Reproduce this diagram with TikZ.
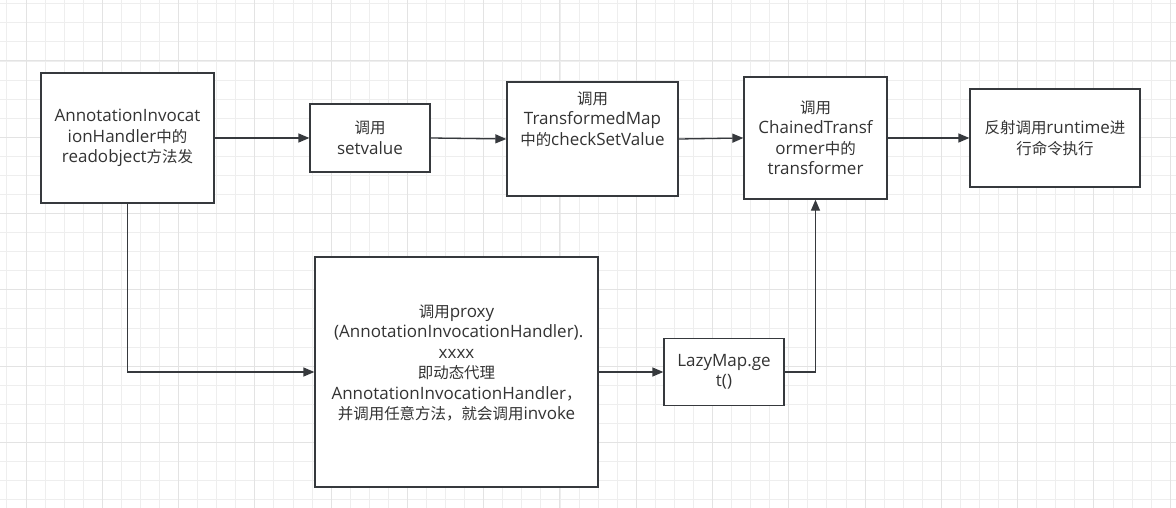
\documentclass[tikz,border=0pt]{standalone}
\usepackage{fontspec}
\setmainfont{Open Sans}
\newfontfamily\cjkfont{Noto Sans CJK SC}[Scale=0.91]
\newcommand\zh[1]{{\cjkfont #1}}
\usetikzlibrary{arrows.meta, positioning, calc}
\definecolor{gridminor}{HTML}{EEEEEE}
\definecolor{gridmajor}{HTML}{E3E3E3}
\definecolor{boxborder}{HTML}{36393D}
\definecolor{boxtext}{HTML}{333333}

\tikzset{
  box/.style={draw=boxborder, line width=1.3pt, fill=white, text=boxtext,
    align=center, inner sep=2pt, font=\fontsize{17}{20.5}\selectfont},
  flow/.style={draw=boxborder, line width=1.3pt, -{Triangle[length=11pt,width=9pt]}}
}

\begin{document}
\begin{tikzpicture}[x=1pt,y=-1pt]
        \useasboundingbox (0,0) rectangle (1176,508);
        \begin{scope}
          \clip (0,0) rectangle (1176,508);
          \foreach \i in {-1,...,60} {
            \draw[gridminor, line width=0.9pt] ({26+\i*19.07},0) -- ++(0,508);
          }
          \foreach \i in {-4,...,24} {
            \draw[gridminor, line width=0.9pt] (0,{61+\i*19.07}) -- ++(1176,0);
          }
          \foreach \i in {0,...,15} {
            \draw[gridmajor, line width=1pt] ({26+\i*76.28},0) -- ++(0,508);
          }
          \foreach \i in {0,...,6} {
            \draw[gridmajor, line width=1pt] (0,{61+\i*76.28}) -- ++(1176,0);
          }
        \end{scope}

        \node[box, minimum width=173pt, minimum height=130pt] (handler) at (127.5,138)
          {AnnotationInvocat\\ionHandler\zh{中的}\\readobject\zh{方法发}};
        \node[box, minimum width=120pt, minimum height=68pt] (setval) at (370,138)
          {\zh{调用}\\setvalue};
        \node[box, minimum width=171pt, minimum height=114pt,
          label={[box, draw=none, fill=none, yshift=20pt]center:{\zh{调用}\\TransformedMap\\\zh{中的}checkSetValue}}]
          (tmap) at (592.5,139) {};
        \node[box, minimum width=143pt, minimum height=122pt] (chain) at (815.5,138)
          {\zh{调用}\\ChainedTransf\\ormer\zh{中的}\\transformer};
        \node[box, minimum width=170pt, minimum height=98pt] (runtime) at (1055,138)
          {\zh{反射调用}runtime\zh{进}\\\zh{行命令执行}};
        \node[box, minimum width=283pt, minimum height=230pt,
          label={[box, draw=none, fill=none, yshift=9pt]center:{\zh{调用}proxy\\\ (AnnotationInvocationHandler).\\xxxx\\\zh{即动态代理}\\AnnotationInvocationHandler\zh{，}\\\zh{并调用任意方法，就会调用}invoke}}]
          (proxy) at (456.5,372) {};
        \node[box, minimum width=120pt, minimum height=67pt] (lazymap) at (724,372)
          {LazyMap.ge\\t()};

        \draw[flow] (handler.east) -- (setval.west);
        \draw[flow] (setval.east) -- (tmap.west);
        \draw[flow] (tmap.east) -- (chain.west);
        \draw[flow] (chain.east) -- (runtime.west);
        \draw[flow] (handler.south) |- (proxy.west);
        \draw[flow] (proxy.east) -- (lazymap.west);
        \draw[flow] (lazymap.east) -| (chain.south);
      \end{tikzpicture}
\end{document}
